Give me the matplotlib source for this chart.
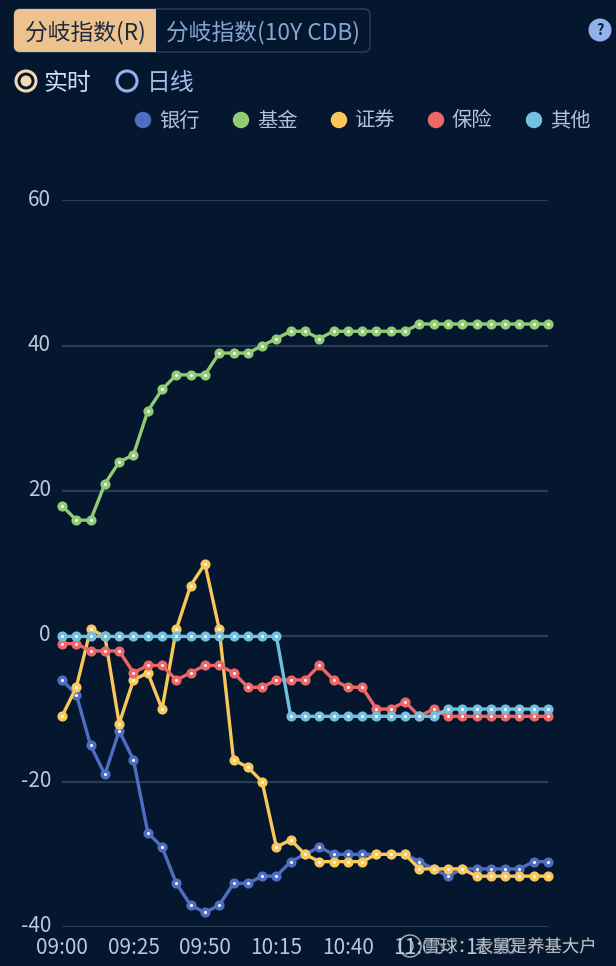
import matplotlib
matplotlib.use("Agg")
import matplotlib.pyplot as plt
import matplotlib.patheffects as pe
from matplotlib.patches import FancyBboxPatch, Circle, Rectangle, Arc
from matplotlib.transforms import ScaledTranslation

plt.rcParams['font.family'] = ['Noto Sans CJK SC', 'DejaVu Sans']
plt.rcParams['axes.unicode_minus'] = False

tick_labels = ['09:00', '09:25', '09:50', '10:15', '10:40', '11:05', '11:30']
y_ticks = [-40, -20, 0, 20, 40, 60]

bank = [-6, -8, -15, -19, -13, -17, -27, -29, -34, -37, -38, -37, -34, -34, -33, -33, -31, -30,
        -29, -30, -30, -30, -30, -30, -30, -31, -32, -33, -32, -32, -32, -32, -32, -31, -31]
fund = [18, 16, 16, 21, 24, 25, 31, 34, 36, 36, 36, 39, 39, 39, 40, 41, 42, 42,
        41, 42, 42, 42, 42, 42, 42, 43, 43, 43, 43, 43, 43, 43, 43, 43, 43]
securities = [-11, -7, 1, 0, -12, -6, -5, -10, 1, 7, 10, 1, -17, -18, -20, -29, -28, -30,
              -31, -31, -31, -31, -30, -30, -30, -32, -32, -32, -32, -33, -33, -33, -33, -33, -33]
insurance = [-1, -1, -2, -2, -2, -5, -4, -4, -6, -5, -4, -4, -5, -7, -7, -6, -6, -6,
             -4, -6, -7, -7, -10, -10, -9, -11, -10, -11, -11, -11, -11, -11, -11, -11, -11]
other = [0, 0, 0, 0, 0, 0, 0, 0, 0, 0, 0, 0, 0, 0, 0, 0, -11, -11,
         -11, -11, -11, -11, -11, -11, -11, -11, -11, -10, -10, -10, -10, -10, -10, -10, -10]

series_names = ['银行', '基金', '证券', '保险', '其他']
series_values = [bank, fund, securities, insurance, other]
series_colors = ['#4f6ec2', '#91cc75', '#fac858', '#ee6666', '#73c0de']

BG = '#04172f'
W, H = 616, 966
fig = plt.figure(figsize=(W / 100, H / 100), dpi=100, facecolor=BG)
ax = fig.add_axes([62 / W, 1 - 927 / H, (548 - 62) / W, (927 - 200.5) / H], facecolor='none')
ax.set_xlim(0, 34)
ax.set_ylim(-40, 60)
for s in ax.spines.values():
    s.set_visible(False)
ax.set_yticks(y_ticks)
ax.set_xticks(range(0, 35, 5))
ax.set_xticklabels(tick_labels)
ax.tick_params(length=0, labelsize=15, labelcolor='#b9c7dd')
ax.tick_params(axis='y', pad=8)
ax.tick_params(axis='x', pad=7.5)
ax.grid(axis='y', color='#2a3c55', lw=1.6, zorder=0)
ax.grid(axis='x', visible=False)
up = ScaledTranslation(0, 2.5 / 72, fig.dpi_scale_trans)
for lab in ax.get_yticklabels():
    lab.set_transform(lab.get_transform() + up)

for i, (vals, c) in enumerate(zip(series_values, series_colors)):
    line, = ax.plot(range(len(vals)), vals, color=c, lw=2.4, marker='o', ms=4.8, mfc='#f6f8fb', mec=c,
                    mew=2.5, clip_on=False, zorder=3 + i)
    line.set_snap(False)

# page chrome, in pixel coordinates
ui = fig.add_axes([0, 0, 1, 1], facecolor='none')
ui.set_xlim(0, W)
ui.set_ylim(H, 0)
ui.axis('off')

ui.add_patch(FancyBboxPatch((14, 9), 356, 43, boxstyle='round,pad=0,rounding_size=6',
                            fc='none', ec='#2f4159', lw=1))
orange = FancyBboxPatch((14, 9), 170, 43, boxstyle='round,pad=0,rounding_size=6',
                        fc='#eec28f', ec='none')
ui.add_patch(orange)
orange.set_clip_path(Rectangle((14, 9), 142, 43, transform=ui.transData))
ui.text(25, 32.5, '分岐指数(R)', fontsize=16.4, color='#1b2a3e', va='center', ha='left')
ui.text(166, 32.5, '分岐指数(10Y CDB)', fontsize=16.4, color='#86a5cf', va='center', ha='left')

ui.add_patch(Circle((600, 30), 11.5, fc='#8fb3ea', ec='none'))
ui.text(600, 30, '?', fontsize=10.5, fontweight='bold', color='#0a1c35', ha='center', va='center')

ui.add_patch(Circle((26, 81), 10, fc='none', ec='#f5d9b0', lw=2.2))
ui.add_patch(Circle((26, 81), 5.5, fc='#f5d9b0', ec='none'))
ui.text(43, 83, '实时', fontsize=17.2, color='#c9ddf5', va='center', ha='left')
ui.add_patch(Circle((127, 81), 10, fc='none', ec='#8fb3ea', lw=2.2))
ui.text(147, 83, '日线', fontsize=17.2, color='#9dbce6', va='center', ha='left')

legend_x = [143, 241, 339, 436, 534]
for name, c, x in zip(series_names, series_colors, legend_x):
    ui.add_patch(Circle((x, 120), 8.2, fc=c, ec='none'))
    ui.text(x + 16, 121, name, fontsize=14.6, color='#b3c1d8', va='center', ha='left')

# watermark
shadow = [pe.withStroke(linewidth=1.5, foreground='#10202f', alpha=0.6)]
ui.add_patch(Circle((410, 946), 11, fc='none', ec='#c9ced6', lw=1.1, alpha=0.8))
ui.add_patch(Arc((405, 946), 16, 16, theta1=300, theta2=90, ec='#c9ced6', lw=1.1, alpha=0.8))
ui.text(423, 947, '雪球：表舅是养基大户', fontsize=12.5, color='#c9ced6', alpha=0.9,
        va='center', ha='left', path_effects=shadow)

fig.savefig('out.png', dpi=100, facecolor=BG)
